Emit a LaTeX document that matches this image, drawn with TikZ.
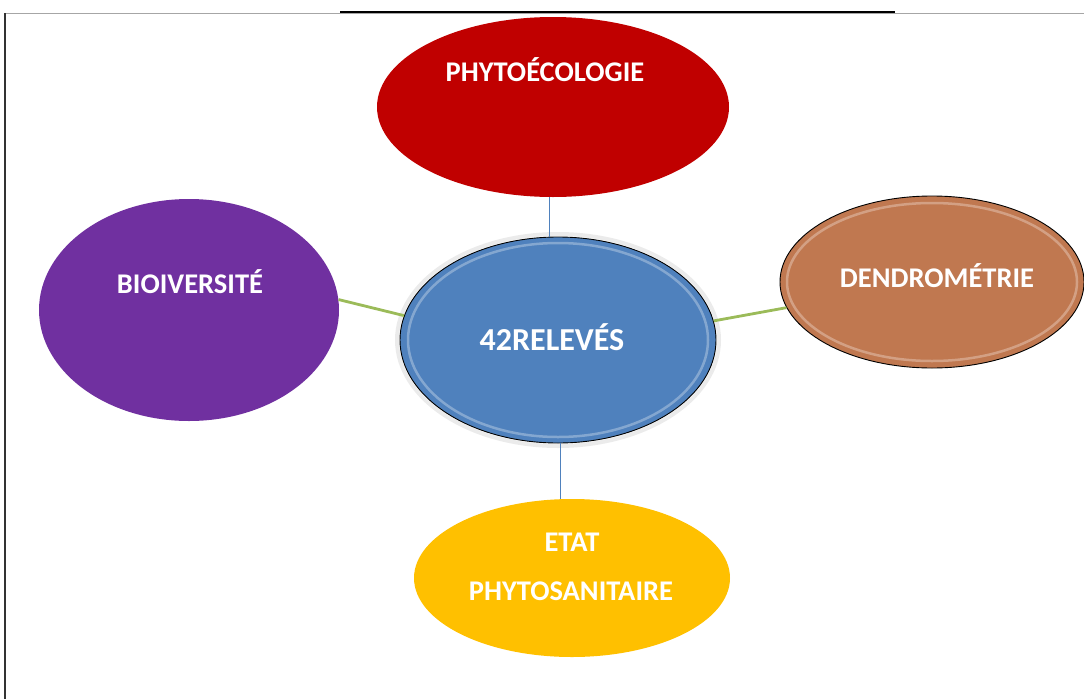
\documentclass[tikz,border=0pt]{standalone}
\usepackage{fontspec}
\setmainfont{Carlito}
\usetikzlibrary{shapes.geometric,positioning}
\definecolor{phyred}{RGB}{192,0,0}
\definecolor{biopurple}{RGB}{112,48,160}
\definecolor{relblue}{RGB}{79,129,189}
\definecolor{dendbrown}{RGB}{192,120,80}
\definecolor{etatyellow}{RGB}{255,192,0}
\definecolor{linkgreen}{RGB}{155,187,89}

\begin{document}
\begin{tikzpicture}[x=1pt,y=-1pt,
    blob/.style={ellipse, inner sep=0pt},
    lbl/.style={text=white, font=\bfseries\fontsize{28.5}{32}\selectfont},
    bevel/.style={white, opacity=.3, line width=2.5pt},
    bluelink/.style={relblue, line width=.8pt},
    greenlink/.style={linkgreen, line width=2.8pt}]
\useasboundingbox (0,0) rectangle (1084,699);

% frame
\draw[gray!70, line width=.9pt] (5,13) -- (1084,13);
\draw[black, line width=2.5pt] (340,12) -- (895,12);
\draw[black!80, line width=1.2pt] (5,13) -- (5,699);

% ellipses
\node[blob, fill=phyred, minimum width=352pt, minimum height=180pt] (phyto) at (553,107) {};
\node[blob, fill=biopurple, minimum width=300pt, minimum height=222pt] (bio) at (189,310) {};
\node[blob, fill=etatyellow, minimum width=316pt, minimum height=158pt] (etat) at (572,578) {};
\node[blob, fill=dendbrown, draw=black, line width=.9pt, minimum width=304pt, minimum height=172pt] (dendro) at (932,282) {};
\draw[bevel] (dendro) ellipse [x radius=145pt, y radius=79pt];
\node[blob, draw=black!8, line width=4pt, minimum width=322pt, minimum height=212pt] (relhalo) at (558,340) {};
\node[blob, fill=relblue, draw=black, line width=.9pt, minimum width=316pt, minimum height=206pt] (rel) at (558,340) {};
\draw[bevel] (rel) ellipse [x radius=150pt, y radius=97pt];

% connectors
\draw[bluelink] ([xshift=-4pt]phyto.south) -- ([xshift=-9pt]rel.north);
\draw[bluelink] ([xshift=2pt]rel.south) -- ([xshift=-12pt]etat.north);
\draw[greenlink] (bio.4) -- (rel.171);
\draw[greenlink] (rel.7) -- (dendro.190);

% labels
\node[lbl] (phytoT) at (545,70) {PHYTOÉCOLOGIE};
\node[lbl] (bioT) at (190,282) {BIOIVERSITÉ};
\node[lbl] (dendroT) at (937,276) {DENDROMÉTRIE};
\node[lbl, font=\bfseries\fontsize{32}{36}\selectfont] (relT) at (552,337) {42RELEVÉS};
\node[lbl] (etatA) at (572,542) {ETAT};
\node[lbl] (etatB) at (571,591) {PHYTOSANITAIRE};
\end{tikzpicture}
\end{document}
